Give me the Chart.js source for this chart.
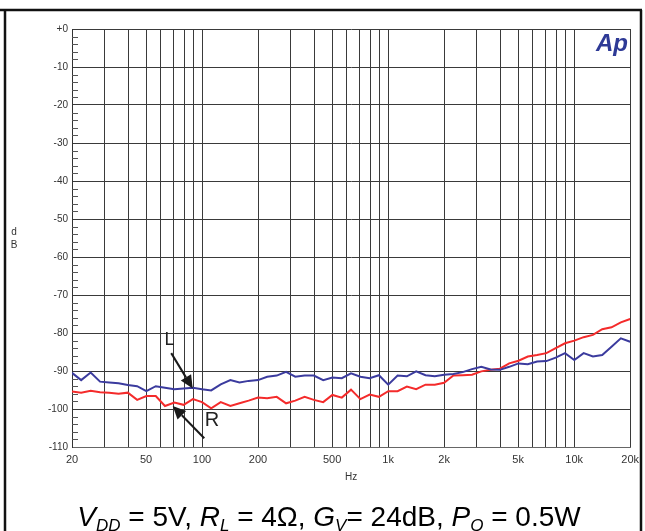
<!DOCTYPE html>
<html>
<head>
<meta charset="utf-8">
<script src="https://cdn.jsdelivr.net/npm/chart.js@4.4.1/dist/chart.umd.min.js"></script>
<style>
html,body{margin:0;padding:0;background:#fff;}
#wrap{width:645px;height:531px;position:relative;}
canvas{display:block;}
</style>
</head>
<body>
<div id="wrap"><canvas id="c" width="645" height="531"></canvas></div>
<script>
// Frequencies (Hz) of the sweep points
const freqs = [20, 22.4, 25.2, 28.3, 31.7, 35.6, 39.9, 44.8, 50.2, 56.4,
  63.2, 71.0, 79.6, 89.3, 100, 112, 126, 142, 159, 178,
  200, 224, 252, 283, 317, 356, 399, 448, 502, 564,
  632, 710, 796, 893, 1002, 1125, 1262, 1416, 1589, 1783,
  2000, 2244, 2518, 2825, 3170, 3557, 3991, 4477, 5024, 5637,
  6325, 7096, 7962, 8934, 10024, 11247, 12619, 14159, 15887, 17825, 20000];

// L channel (blue), dB
const seriesL = [-90.5, -92.4, -90.4, -92.8, -93.0, -93.2, -93.7, -94.0, -95.3, -94.0,
  -94.4, -94.8, -94.6, -94.4, -94.8, -95.1, -93.5, -92.4, -93.0, -92.6,
  -92.4, -91.5, -91.2, -90.2, -91.5, -91.2, -91.2, -92.4, -91.7, -91.9,
  -90.6, -91.5, -91.9, -91.1, -93.6, -91.2, -91.4, -90.1, -91.1, -91.4,
  -91.0, -90.8, -90.3, -89.5, -88.9, -89.6, -89.7, -88.9, -88.0, -88.2,
  -87.5, -87.4, -86.5, -85.3, -87.1, -85.3, -86.2, -85.8, -83.6, -81.4, -82.3];

// R channel (red), dB
const seriesR = [-95.4, -95.7, -95.2, -95.6, -95.7, -96.0, -95.7, -97.6, -96.6, -96.6,
  -99.2, -98.3, -98.9, -97.4, -98.2, -99.8, -98.2, -99.2, -98.5, -97.8,
  -97.0, -97.2, -96.8, -98.5, -97.8, -96.8, -97.6, -98.2, -96.3, -97.0,
  -94.9, -97.4, -96.2, -96.8, -95.3, -95.3, -94.1, -94.8, -93.6, -93.6,
  -93.1, -91.2, -91.1, -91.0, -90.1, -89.7, -89.4, -88.0, -87.3, -86.2,
  -85.8, -85.3, -84.0, -82.7, -82.0, -81.1, -80.5, -79.0, -78.5, -77.2, -76.3];

// X gridline / tick positions and labelled ones
const xTicks = [20, 30, 40, 50, 60, 70, 80, 90, 100, 200, 300, 400, 500, 600, 700, 800, 900,
  1000, 2000, 3000, 4000, 5000, 6000, 7000, 8000, 9000, 10000, 20000];
const xLabels = {20:'20', 50:'50', 100:'100', 200:'200', 500:'500', 1000:'1k', 2000:'2k', 5000:'5k', 10000:'10k', 20000:'20k'};
const yTicks = [0, -10, -20, -30, -40, -50, -60, -70, -80, -90, -100, -110];

// Annotation anchors in data units (freq, dB)
const labelL = {x: 66.8, y: -81.8, text: 'L'};
const arrowL = {from: {x: 68.3, y: -85.3}, to: {x: 89.1, y: -94.6}};
const labelR = {x: 113, y: -102.9, text: 'R'};
const arrowR = {from: {x: 102.8, y: -107.7}, to: {x: 69.6, y: -99.2}};

const FONT = "'Liberation Sans', Arial, sans-serif";

function drawArrow(ctx, x1, y1, x2, y2) {
  const ang = Math.atan2(y2 - y1, x2 - x1);
  const hl = 13, hw = 6;
  const bx = x2 - hl * Math.cos(ang), by = y2 - hl * Math.sin(ang);
  ctx.strokeStyle = '#1a1a1a';
  ctx.lineWidth = 2;
  ctx.beginPath(); ctx.moveTo(x1, y1); ctx.lineTo(bx, by); ctx.stroke();
  ctx.fillStyle = '#1a1a1a';
  ctx.beginPath();
  ctx.moveTo(x2, y2);
  ctx.lineTo(bx + hw * Math.sin(ang), by - hw * Math.cos(ang));
  ctx.lineTo(bx - hw * Math.sin(ang), by + hw * Math.cos(ang));
  ctx.closePath(); ctx.fill();
}

const extras = {
  id: 'extras',
  afterDatasetsDraw(chart) {
    const ctx = chart.ctx, xs = chart.scales.x, ys = chart.scales.y;
    ctx.save();
    // minor y ticks inside plot
    ctx.strokeStyle = '#555'; ctx.lineWidth = 1;
    for (let v = -108; v < 0; v += 2) {
      if (v % 10 === 0) continue;
      const py = Math.round(ys.getPixelForValue(v)) + 0.5;
      ctx.beginPath(); ctx.moveTo(xs.left, py); ctx.lineTo(xs.left + 6, py); ctx.stroke();
    }
    // annotations
    drawArrow(ctx, xs.getPixelForValue(arrowL.from.x), ys.getPixelForValue(arrowL.from.y),
      xs.getPixelForValue(arrowL.to.x), ys.getPixelForValue(arrowL.to.y));
    drawArrow(ctx, xs.getPixelForValue(arrowR.from.x), ys.getPixelForValue(arrowR.from.y),
      xs.getPixelForValue(arrowR.to.x), ys.getPixelForValue(arrowR.to.y));
    ctx.fillStyle = '#222';
    ctx.textAlign = 'center'; ctx.textBaseline = 'middle';
    ctx.font = '18px ' + FONT;
    ctx.fillText(labelL.text, xs.getPixelForValue(labelL.x), ys.getPixelForValue(labelL.y));
    ctx.font = '20px ' + FONT;
    ctx.fillText(labelR.text, xs.getPixelForValue(labelR.x), ys.getPixelForValue(labelR.y));
    // Ap logo
    ctx.fillStyle = '#2e3a96';
    ctx.font = 'italic bold 24px ' + FONT;
    ctx.textAlign = 'right'; ctx.textBaseline = 'alphabetic';
    ctx.fillText('Ap', 628, 51);
    ctx.restore();
  },
  afterDraw(chart) {
    const ctx = chart.ctx, xs = chart.scales.x;
    ctx.save();
    // dB stacked title
    ctx.fillStyle = '#333';
    ctx.font = '10px ' + FONT;
    ctx.textAlign = 'center'; ctx.textBaseline = 'middle';
    ctx.fillText('d', 14, 232);
    ctx.fillText('B', 14, 245);
    // Hz title
    ctx.fillText('Hz', (xs.left + xs.right) / 2, 477);
    // outer frame
    ctx.strokeStyle = '#111'; ctx.lineWidth = 2.5;
    ctx.beginPath();
    ctx.moveTo(0, 10); ctx.lineTo(642, 10);
    ctx.moveTo(5, 10); ctx.lineTo(5, 531);
    ctx.moveTo(641, 10); ctx.lineTo(641, 531);
    ctx.stroke();
    // caption
    const main = 28, sub = 17;
    const segs = [
      {t: 'V', it: true}, {t: 'DD', it: true, s: true}, {t: ' = 5V, '},
      {t: 'R', it: true}, {t: 'L', it: true, s: true}, {t: ' = 4Ω, '},
      {t: 'G', it: true}, {t: 'V', it: true, s: true}, {t: '= 24dB, '},
      {t: 'P', it: true}, {t: 'O', it: true, s: true}, {t: ' = 0.5W'}
    ];
    const fontOf = s => (s.it ? 'italic ' : '') + (s.s ? sub : main) + 'px ' + FONT;
    let total = 0;
    segs.forEach(s => { ctx.font = fontOf(s); s.w = ctx.measureText(s.t).width; total += s.w; });
    let x = 329 - total / 2;
    const base = 526;
    ctx.fillStyle = '#000';
    ctx.textAlign = 'left'; ctx.textBaseline = 'alphabetic';
    segs.forEach(s => {
      ctx.font = fontOf(s);
      ctx.fillText(s.t, x, s.s ? base + 5 : base);
      x += s.w;
    });
    ctx.restore();
  }
};

new Chart(document.getElementById('c'), {
  type: 'line',
  data: {
    datasets: [
      {label: 'L', data: freqs.map((f, i) => ({x: f, y: seriesL[i]})),
       borderColor: '#3b3b9e', borderWidth: 2, pointRadius: 0, tension: 0, fill: false},
      {label: 'R', data: freqs.map((f, i) => ({x: f, y: seriesR[i]})),
       borderColor: '#f42b2b', borderWidth: 2, pointRadius: 0, tension: 0, fill: false}
    ]
  },
  options: {
    responsive: false,
    animation: false,
    devicePixelRatio: 1,
    layout: {padding: {top: 29, right: 12, left: 0, bottom: 0}},
    plugins: {legend: {display: false}, tooltip: {enabled: false}},
    scales: {
      x: {
        type: 'logarithmic', min: 20, max: 20000,
        afterBuildTicks: s => { s.ticks = xTicks.map(v => ({value: v})); },
        afterFit: s => { s.height = 84; },
        ticks: {
          autoSkip: false, maxRotation: 0, padding: 6,
          callback: v => xLabels[v] || '',
          color: '#333', font: {size: 11, family: FONT}
        },
        grid: {color: '#3a3a3a', lineWidth: 1, drawTicks: false},
        border: {color: '#666', width: 1}
      },
      y: {
        min: -110, max: 0,
        afterBuildTicks: s => { s.ticks = yTicks.map(v => ({value: v})); },
        afterFit: s => { s.width = 72; },
        ticks: {
          padding: 4,
          callback: v => v === 0 ? '+0' : String(v),
          color: '#333', font: {size: 10, family: FONT}
        },
        grid: {color: '#3a3a3a', lineWidth: 1, drawTicks: false},
        border: {color: '#333', width: 1}
      }
    }
  },
  plugins: [extras]
});
</script>
</body>
</html>
